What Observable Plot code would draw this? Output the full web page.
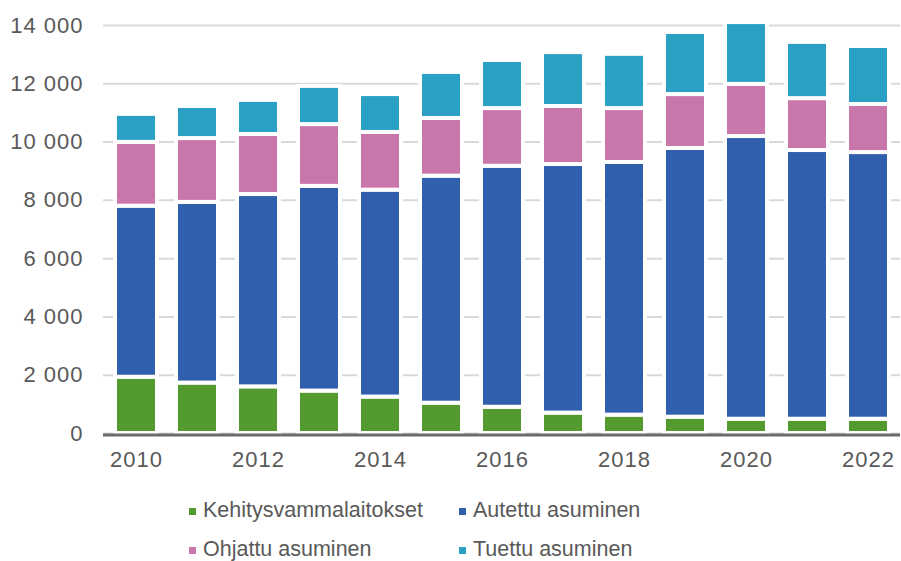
<!DOCTYPE html>
<html>
<head>
<meta charset="utf-8">
<script src="https://cdn.jsdelivr.net/npm/d3@7"></script>
<script src="https://cdn.jsdelivr.net/npm/@observablehq/plot@0.6"></script>
<style>
  html, body { margin: 0; padding: 0; background: #fff; }
  #wrap { position: relative; width: 901px; height: 561px; overflow: hidden; font-family: "Liberation Sans", Arial, sans-serif; }
  #wrap svg [aria-label="x-axis tick label"] text,
  #wrap svg [aria-label="y-axis tick label"] text { letter-spacing: 1px; }
  .lg { position: absolute; display: flex; align-items: center; font-size: 21.5px; color: #595959; white-space: nowrap; line-height: 1; }
  .lg span.sw { display: inline-block; width: 7px; height: 7px; margin-right: 7px; }
</style>
</head>
<body>
<div id="wrap"></div>
<script>
const years = [2010, 2011, 2012, 2013, 2014, 2015, 2016, 2017, 2018, 2019, 2020, 2021, 2022];
const seriesNames = ["Kehitysvammalaitokset", "Autettu asuminen", "Ohjattu asuminen", "Tuettu asuminen"];
const seriesColors = ["#539B2E", "#3060AD", "#C977AA", "#2AA0C4"];
const kehitysvammalaitokset = [1930, 1730, 1600, 1455, 1250, 1040, 900, 700, 630, 560, 490, 490, 490];
const autettuAsuminen = [5870, 6200, 6600, 7025, 7100, 7790, 8270, 8530, 8670, 9220, 9700, 9220, 9150];
const ohjattuAsuminen = [2190, 2190, 2060, 2120, 1980, 1980, 1980, 1990, 1850, 1850, 1790, 1780, 1650];
const tuettuAsuminen = [960, 1100, 1170, 1310, 1300, 1580, 1650, 1850, 1860, 2130, 2120, 1930, 1990];
const yTicks = [0, 2000, 4000, 6000, 8000, 10000, 12000, 14000];

const seriesValues = [kehitysvammalaitokset, autettuAsuminen, ohjattuAsuminen, tuettuAsuminen];
const data = years.flatMap((yr, i) => seriesNames.map((s, j) => ({year: yr, series: s, value: seriesValues[j][i]})));

const fmt = d3.formatLocale({thousands: "\u00a0", grouping: [3], decimal: ",", currency: ["", " €"]}).format(",");

const chart = Plot.plot({
  width: 901,
  height: 480,
  marginTop: 25,
  marginBottom: 47,
  marginLeft: 103,
  marginRight: 1,
  style: {fontFamily: "'Liberation Sans', Arial, sans-serif", fontSize: "22px", color: "#595959", background: "white"},
  x: {type: "band", domain: years, paddingInner: 0.315, paddingOuter: 0.1575},
  y: {domain: [0, 14000]},
  color: {domain: seriesNames, range: seriesColors},
  marks: [
    Plot.gridY(yTicks, {stroke: "#d9d9d9", strokeWidth: 2, strokeOpacity: 1}),
    Plot.barY(data, {x: "year", y: "value", fill: "series", stroke: "white", strokeWidth: 4}),
    Plot.ruleY([0], {stroke: "#6b6b6b", strokeWidth: 3, dy: 1.5}),
    Plot.axisX({tickSize: 0, tickPadding: 18, tickFormat: d => d % 2 === 0 ? String(d) : "", fill: "#595959", fontSize: 22, label: null}),
    Plot.axisY({ticks: yTicks, tickSize: 0, tickPadding: 20, tickFormat: fmt, fill: "#595959", fontSize: 22, label: null})
  ]
});

const wrap = document.getElementById("wrap");
wrap.appendChild(chart);

const colX = [189, 459];
const rowY = [511, 550];
seriesNames.forEach((name, i) => {
  const el = document.createElement("div");
  el.className = "lg";
  el.style.left = colX[i % 2] + "px";
  el.style.top = (rowY[Math.floor(i / 2)] - 11) + "px";
  el.style.height = "22px";
  const sw = document.createElement("span");
  sw.className = "sw";
  sw.style.background = seriesColors[i];
  el.appendChild(sw);
  el.appendChild(document.createTextNode(name));
  wrap.appendChild(el);
});
</script>
</body>
</html>
